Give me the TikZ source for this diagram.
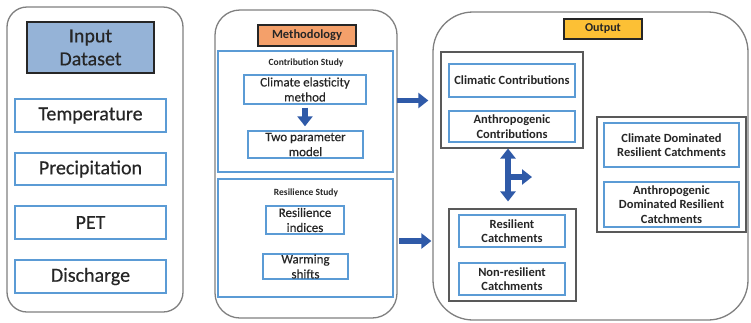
\documentclass[tikz,border=0pt]{standalone}
\usepackage{fontspec}
\setmainfont{Carlito}
\newfontfamily\mediumfont[FakeBold=0.35]{Carlito}
\usetikzlibrary{arrows.meta}
\definecolor{panelgray}{HTML}{7F7F7F}
\definecolor{groupgray}{HTML}{595959}
\definecolor{boxblue}{HTML}{5B9BD5}
\definecolor{arrowblue}{HTML}{2F5AA8}
\definecolor{txt}{HTML}{262626}
\definecolor{inputfill}{HTML}{95B3D7}
\definecolor{methfill}{HTML}{F4A06A}
\definecolor{outfill}{HTML}{FCC035}
\begin{document}
\begin{tikzpicture}[x=1pt,y=-1pt,
  panel/.style={draw=panelgray, line width=1.3pt, inner sep=0pt},
  bluebox/.style={draw=boxblue, line width=1.4pt, fill=white, inner sep=0pt, align=center, text=txt},
  studybox/.style={draw=boxblue, line width=1.4pt, inner sep=0pt},
  groupbox/.style={draw=groupgray, line width=1.1pt, inner sep=0pt},
  labelbox/.style={draw=black!85, line width=1.2pt, inner sep=0pt, text=txt},
  bigtext/.style={font=\mediumfont\fontsize{20}{23}\selectfont},
  midtext/.style={font=\mediumfont\fontsize{13}{15}\selectfont},
  titletext/.style={font=\fontsize{9.5}{11}\selectfont\bfseries, text=txt},
  boldtext/.style={font=\fontsize{12.5}{14.5}\selectfont\bfseries},
  blockarrow/.style={draw=arrowblue, line width=5.5pt, -{Triangle[width=15pt,length=10pt]}},
  dblarrow/.style={draw=arrowblue, line width=5.5pt, {Triangle[width=15pt,length=10pt]}-{Triangle[width=15pt,length=10pt]}}
]
\useasboundingbox (0,0) rectangle (751,322);

% ---------- Input panel ----------
\node[panel, rounded corners=20pt, minimum width=176pt, minimum height=305pt] (inpanel) at (95,159.5) {};
\node[labelbox, fill=inputfill, bigtext, align=center, minimum width=127pt, minimum height=51pt] (input) at (90.5,47.5) {Input\\Dataset};
\node[bluebox, bigtext, minimum width=151pt, minimum height=33pt] (temp) at (90.5,115.5) {Temperature};
\node[bluebox, bigtext, minimum width=151pt, minimum height=32pt] (prec) at (90.5,169) {Precipitation};
\node[bluebox, bigtext, minimum width=151pt, minimum height=33pt] (pet) at (90.5,222.5) {PET};
\node[bluebox, bigtext, minimum width=151pt, minimum height=33pt] (dis) at (90.5,276.5) {Discharge};

% ---------- Methodology panel ----------
\node[panel, rounded corners=25pt, minimum width=182pt, minimum height=308pt] (methpanel) at (306,164) {};
\node[labelbox, fill=methfill, font=\fontsize{12.5}{14}\selectfont\bfseries, minimum width=98pt, minimum height=21pt] (meth) at (307,35.5) {Methodology};

\node[studybox, minimum width=175pt, minimum height=121pt] (contrib) at (305.5,111.5) {};
\node[titletext] (contribtitle) at (306,63) {Contribution Study};
\node[bluebox, midtext, minimum width=122pt, minimum height=29pt] (cem) at (305,89.5) {Climate elasticity\\method};
\node[bluebox, midtext, minimum width=115pt, minimum height=27pt] (tpm) at (305.5,144.5) {Two parameter\\model};
\draw[blockarrow, shorten <=3pt, shorten >=4pt] (cem.south) -- (cem.south |- tpm.north);

\node[studybox, minimum width=175pt, minimum height=118pt] (resil) at (305.5,238) {};
\node[titletext] (resiltitle) at (306,193) {Resilience Study};
\node[bluebox, midtext, minimum width=78pt, minimum height=28pt] (ri) at (305,220) {Resilience\\indices};
\node[bluebox, midtext, minimum width=85pt, minimum height=25pt] (ws) at (305.5,266.5) {Warming\\shifts};

% ---------- Output panel ----------
\node[panel, rounded corners=40pt, minimum width=315pt, minimum height=308pt] (outpanel) at (590.5,166) {};
\node[labelbox, fill=outfill, font=\fontsize{12}{14}\selectfont\bfseries, minimum width=78pt, minimum height=20pt] (out) at (603,29) {Output};

\node[groupbox, minimum width=142pt, minimum height=96pt] (g1) at (512,100) {};
\node[bluebox, boldtext, minimum width=126pt, minimum height=33pt] (cc) at (512,80.5) {Climatic Contributions};
\node[bluebox, boldtext, minimum width=126pt, minimum height=31pt] (ac) at (512,126.5) {Anthropogenic\\Contributions};

\node[groupbox, minimum width=127pt, minimum height=92pt] (g2) at (512.5,255) {};
\node[bluebox, boldtext, minimum width=106pt, minimum height=32pt] (rc) at (512,231) {Resilient\\Catchments};
\node[bluebox, boldtext, minimum width=106pt, minimum height=32pt] (nrc) at (512,279) {Non-resilient\\Catchments};

\node[groupbox, minimum width=149pt, minimum height=115pt] (g3) at (671.5,174.5) {};
\node[bluebox, boldtext, minimum width=135pt, minimum height=44pt] (cdrc) at (671.5,145) {Climate Dominated\\Resilient Catchments};
\node[bluebox, boldtext, minimum width=135pt, minimum height=45pt] (adrc) at (671.5,204.5) {Anthropogenic\\Dominated Resilient\\Catchments};

% ---------- connectors ----------
\coordinate (a1) at (397,100.5);
\coordinate (a2) at (399,241);
\draw[blockarrow, shorten >=4pt] (a1) -- (a1 -| outpanel.west);
\draw[blockarrow, shorten >=1pt] (a2) -- (a2 -| outpanel.west);

\coordinate (dv) at (508,177);
\coordinate (dbr) at (532,177);
\draw[dblarrow, shorten <=0pt, shorten >=7pt] (dv |- g1.south) -- (dv |- g2.north);
\draw[blockarrow] ([xshift=-2.5pt]dv) -- (dbr);
\end{tikzpicture}
\end{document}
